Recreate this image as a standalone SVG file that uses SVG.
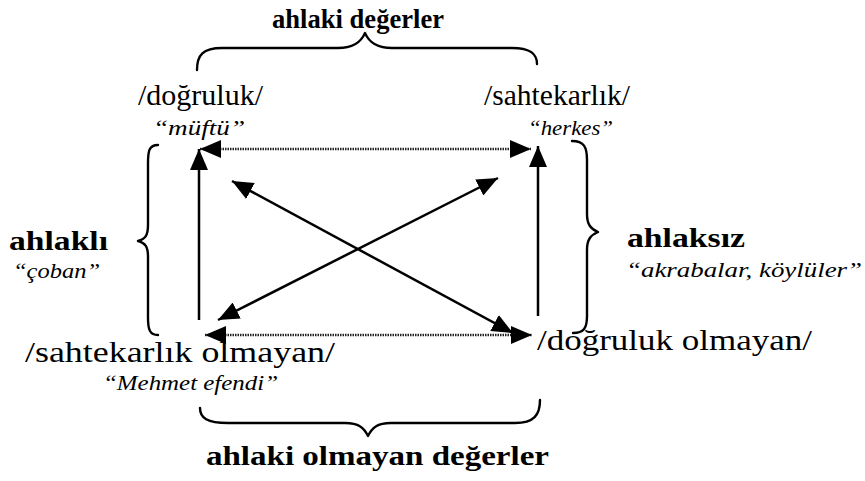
<svg xmlns="http://www.w3.org/2000/svg" width="865" height="481" viewBox="0 0 865 481">
<style>
text{fill:#000}
.b{font-weight:bold;font-size:28px}
.n{font-size:29px}
.i{font-style:italic;font-size:22px}
.br{fill:none;stroke:#000;stroke-width:2.4;stroke-linecap:round;stroke-linejoin:round}
.s{fill:none;stroke:#000;stroke-width:2.5}
.d{fill:none;stroke:#222;stroke-width:2.5;stroke-dasharray:1.5 1}
</style>
<defs>
<marker id="ah" markerUnits="userSpaceOnUse" markerWidth="22" markerHeight="18" refX="21" refY="9" orient="auto-start-reverse">
<path d="M0,0 L21,9 L0,18 Z" fill="#000"/>
</marker>
</defs>
<g font-family="'Liberation Serif', 'Times New Roman', 'DejaVu Serif', 'Noto Serif', Georgia, serif">
<g id="top-brace"><path class="br" d="M197,70 C197,55 203,48 222,48 L338,48 C354,48 361,42 365,33 C369,42 376,48 392,48 L512,48 C531,48 537,54 537,64"/>
<text class="b" x="272" y="28" textLength="172" lengthAdjust="spacingAndGlyphs">ahlaki değerler</text></g>
<g id="n-dogruluk"><text class="n" x="138" y="105" textLength="125" lengthAdjust="spacingAndGlyphs">/doğruluk/</text>
<text class="i" x="153" y="135" textLength="92" lengthAdjust="spacingAndGlyphs">“müftü”</text></g>
<g id="n-sahtekarlik"><text class="n" x="484" y="105" textLength="146" lengthAdjust="spacingAndGlyphs">/sahtekarlık/</text>
<text class="i" x="528" y="135" textLength="85" lengthAdjust="spacingAndGlyphs">“herkes”</text></g>
<g id="n-sahtekarlik-olmayan"><text class="n" x="25" y="362" textLength="310" lengthAdjust="spacingAndGlyphs">/sahtekarlık olmayan/</text>
<text class="i" x="103" y="390" textLength="175" lengthAdjust="spacingAndGlyphs">“Mehmet efendi”</text></g>
<g id="n-dogruluk-olmayan"><text class="n" x="537" y="350" textLength="275" lengthAdjust="spacingAndGlyphs">/doğruluk olmayan/</text></g>
<g id="left-brace"><path class="br" d="M158,145 C149,145 148,151 148,163 L148,225 C148,236 145,239 138,241 C145,243 148,246 148,257 L148,318 C148,330 150,335 158,335"/>
<text class="b" x="9" y="250" textLength="99" lengthAdjust="spacingAndGlyphs">ahlaklı</text>
<text class="i" x="13" y="278" textLength="87" lengthAdjust="spacingAndGlyphs">“çoban”</text></g>
<g id="right-brace"><path class="br" d="M572,141 C584,141 587,147 587,160 L587,214 C587,225 591,229 598,232 C591,235 587,239 587,250 L587,316 C587,328 584,333 573,333"/>
<text class="b" x="627" y="247" textLength="118" lengthAdjust="spacingAndGlyphs">ahlaksız</text>
<text class="i" x="626" y="277" textLength="236" lengthAdjust="spacingAndGlyphs">“akrabalar, köylüler”</text></g>
<g id="bottom-brace"><path class="br" d="M200,408 C200,418 207,423 228,423 L345,423 C359,423 364,428 368,436 C372,428 377,423 391,423 L515,423 C534,423 540,415 540,400"/>
<text class="b" x="206" y="465" textLength="343" lengthAdjust="spacingAndGlyphs">ahlaki olmayan değerler</text></g>
</g>
<g id="connectors">
<line class="d" x1="200" y1="149" x2="531" y2="149" marker-start="url(#ah)" marker-end="url(#ah)"/>
<line class="d" x1="205" y1="335" x2="532" y2="335" marker-start="url(#ah)" marker-end="url(#ah)"/>
<line class="s" x1="199" y1="320" x2="199" y2="149" marker-end="url(#ah)"/>
<line class="s" x1="538" y1="316" x2="538" y2="146" marker-end="url(#ah)"/>
<line class="s" x1="232" y1="181" x2="513" y2="333" marker-start="url(#ah)" marker-end="url(#ah)"/>
<line class="s" x1="498" y1="178" x2="218" y2="320" marker-start="url(#ah)" marker-end="url(#ah)"/>
</g>
</svg>
